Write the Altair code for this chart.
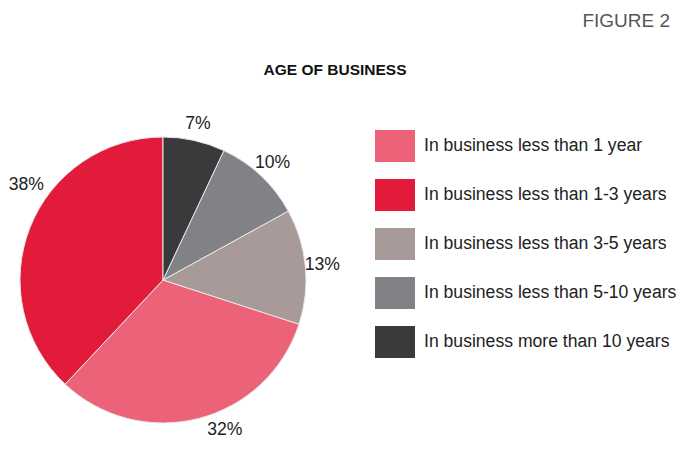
import altair as alt
import pandas as pd

categories = [
    "In business less than 1 year",
    "In business less than 1-3 years",
    "In business less than 3-5 years",
    "In business less than 5-10 years",
    "In business more than 10 years",
]
values = [32, 38, 13, 10, 7]
# clockwise order from 12 o'clock
slice_order = [3, 4, 2, 1, 0]
labels = ["32%", "38%", "13%", "10%", "7%"]
colors = ["#EC6278", "#E31B3A", "#A89A99", "#808285", "#3A3A3C"]

df = pd.DataFrame({"category": categories, "value": values,
                   "ord": slice_order, "label": labels})

FONT = "Liberation Sans"
CX, CY, R = 163, 280, 143
LABEL_R = 160

base = alt.Chart(df).encode(
    theta=alt.Theta("value:Q", stack=True),
    order=alt.Order("ord:Q"),
)

pie = base.mark_arc(stroke="#e8e8e8", strokeWidth=1).encode(
    x=alt.value(CX), y=alt.value(CY), radius=alt.value(R),
    color=alt.Color("category:N",
                    scale=alt.Scale(domain=categories, range=colors),
                    sort=categories,
                    legend=alt.Legend(
                        title=None, orient="none", legendX=375, legendY=126,
                        symbolType="M-1,-0.8L1,-0.8L1,0.8L-1,0.8Z",
                        symbolSize=1600, symbolStrokeWidth=0,
                        labelFont=FONT, labelFontSize=17.6, labelColor="#222222",
                        labelOffset=9, rowPadding=13, labelLimit=400)),
)


def label_layer(sel, dx=0, dy=0):
    return base.mark_text(font=FONT, fontSize=17.6, color="#222222",
                          dx=dx, dy=dy).encode(
        x=alt.value(CX), y=alt.value(CY), radius=alt.value(LABEL_R),
        text="label:N",
        opacity=alt.condition(sel, alt.value(1), alt.value(0)),
    )


main_labels = label_layer("datum.label != '38%' && datum.label != '32%'")
lab38 = label_layer("datum.label == '38%'", dx=12, dy=-36)
lab32 = label_layer("datum.label == '32%'", dx=22, dy=-5)

title_df = pd.DataFrame({"t": ["AGE OF BUSINESS"]})
title = alt.Chart(title_df).mark_text(font=FONT, fontSize=15.5, fontWeight="bold",
                                      color="#111111").encode(
    x=alt.value(335), y=alt.value(70), text="t:N")

fig_df = pd.DataFrame({"t": ["FIGURE 2"]})
fig = alt.Chart(fig_df).mark_text(font=FONT, fontSize=19, color="#555555",
                                  align="right").encode(
    x=alt.value(670), y=alt.value(21), text="t:N")

chart = alt.layer(pie, main_labels, lab38, lab32, title, fig).properties(
    width=687, height=452,
    autosize=alt.AutoSizeParams(type="none"),
    padding=0,
).configure_view(stroke=None)

chart.save("out.html", embed_options={"renderer": "svg", "actions": False})
